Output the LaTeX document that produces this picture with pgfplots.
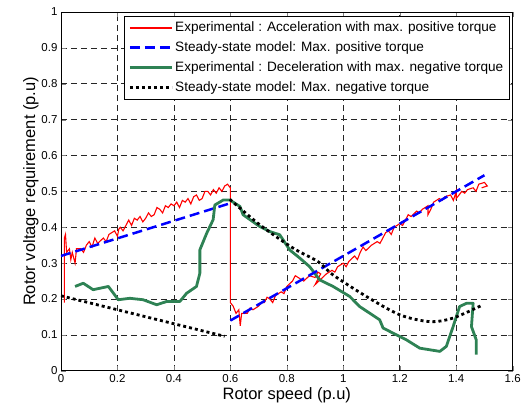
\documentclass[border=0pt]{standalone}
\usepackage{pgfplots}
\pgfplotsset{compat=1.18}
\usepackage{fontspec}
\setmainfont{Liberation Sans}
\definecolor{mgreen}{RGB}{46,130,84}
\begin{document}
\begin{tikzpicture}[x=1pt,y=1pt]
\path (0,0) rectangle (524,416);
\begin{axis}[
  at={(61pt,45pt)}, anchor=south west,
  scale only axis, width=452pt, height=359pt,
  xmin=0, xmax=1.6, ymin=0, ymax=1,
  xtick={0,0.2,...,1.6}, ytick={0,0.1,...,1},
  xticklabels={0,0.2,0.4,0.6,0.8,1,1.2,1.4,1.6},
  yticklabels={0,0.1,0.2,0.3,0.4,0.5,0.6,0.7,0.8,0.9,1},
  tick align=inside, major tick length=5pt,
  grid=major, major grid style={black!85, dash pattern=on 6pt off 4pt, line width=0.6pt},
  tick label style={font=\fontsize{11.5}{13}\selectfont},
  /pgf/number format/assume math mode=true,
  xlabel={Rotor speed (p.u)}, ylabel={Rotor voltage requirement (p.u)},
  label style={font=\fontsize{16.5}{19}\selectfont},
  xlabel style={yshift=2pt},
  ylabel style={yshift=-4pt},
  axis line style={line width=0.8pt},
  legend style={at={(0.993,0.989)}, anchor=north east, draw=black,
    font=\fontsize{13.6}{15}\selectfont, row sep=4.5pt, inner sep=4pt},
  legend cell align=left,
  legend image code/.code={\draw[#1] (0pt,0pt) -- (42pt,0pt);},
]
\addplot[red, line width=1.1pt, legend image post style={draw=red, line width=1.6pt}] coordinates {
(0.012,0.19)(0.012,0.37)(0.016,0.38)(0.02,0.33)(0.03,0.34)(0.035,0.31)(0.04,0.33)(0.05,0.30)(0.055,0.34)(0.07,0.34)(0.08,0.33)(0.09,0.35)(0.1,0.36)(0.11,0.345)(0.12,0.37)(0.13,0.355)(0.15,0.37)(0.16,0.36)(0.17,0.38)(0.19,0.39)(0.2,0.375)(0.205,0.395)(0.21,0.4)(0.22,0.39)(0.23,0.405)(0.24,0.42)(0.25,0.405)(0.26,0.425)(0.27,0.42)(0.28,0.43)(0.29,0.415)(0.3,0.425)(0.31,0.44)(0.32,0.43)(0.33,0.435)(0.34,0.455)(0.35,0.45)(0.36,0.44)(0.37,0.46)(0.38,0.455)(0.39,0.465)(0.4,0.46)(0.41,0.47)(0.42,0.455)(0.43,0.475)(0.44,0.47)(0.45,0.48)(0.46,0.465)(0.47,0.485)(0.48,0.49)(0.49,0.475)(0.5,0.48)(0.51,0.5)(0.52,0.5)(0.53,0.49)(0.54,0.505)(0.55,0.495)(0.56,0.51)(0.57,0.5)(0.58,0.515)(0.59,0.52)(0.6,0.51)(0.6,0.19)(0.61,0.18)(0.62,0.16)(0.63,0.17)(0.635,0.125)(0.64,0.16)(0.66,0.16)(0.67,0.175)(0.68,0.17)(0.7,0.18)(0.71,0.19)(0.72,0.19)(0.73,0.205)(0.74,0.2)(0.75,0.19)(0.76,0.21)(0.78,0.22)(0.79,0.215)(0.8,0.235)(0.82,0.25)(0.83,0.265)(0.84,0.26)(0.86,0.25)(0.88,0.265)(0.9,0.26)(0.91,0.275)(0.92,0.27)(0.9,0.24)(0.94,0.27)(0.96,0.28)(0.97,0.275)(0.98,0.29)(1.0,0.3)(1.01,0.29)(1.02,0.305)(1.04,0.32)(1.05,0.31)(1.06,0.33)(1.07,0.345)(1.08,0.335)(1.1,0.35)(1.12,0.36)(1.13,0.355)(1.14,0.37)(1.15,0.385)(1.16,0.39)(1.17,0.38)(1.18,0.4)(1.2,0.41)(1.21,0.405)(1.22,0.42)(1.23,0.435)(1.24,0.43)(1.26,0.445)(1.27,0.44)(1.28,0.45)(1.3,0.46)(1.3,0.435)(1.31,0.45)(1.32,0.47)(1.34,0.48)(1.35,0.475)(1.36,0.485)(1.38,0.49)(1.39,0.475)(1.4,0.5)(1.4,0.48)(1.42,0.5)(1.43,0.495)(1.44,0.505)(1.46,0.51)(1.47,0.5)(1.48,0.52)(1.5,0.525)(1.51,0.515)(1.49,0.51)
};
\addlegendentry{Experimental : Acceleration with max. positive torque}
\addplot[blue, line width=2.5pt, dash pattern=on 10pt off 5pt] coordinates {
(0,0.32)(0.6,0.467)
};
\addlegendentry{Steady-state model: Max. positive torque}
\addplot[mgreen, line width=2.8pt, line join=round] coordinates {
(0.05,0.235)(0.079,0.244)(0.114,0.226)(0.168,0.235)(0.203,0.198)(0.244,0.202)(0.291,0.198)(0.339,0.184)(0.374,0.193)(0.421,0.193)(0.445,0.216)(0.48,0.235)(0.492,0.272)(0.492,0.337)(0.516,0.383)(0.539,0.421)(0.545,0.462)(0.575,0.476)(0.598,0.476)(0.634,0.458)(0.645,0.435)(0.704,0.402)(0.74,0.388)(0.775,0.379)(0.81,0.337)(0.846,0.314)(0.881,0.29)(0.917,0.253)(0.964,0.235)(1.023,0.207)(1.058,0.179)(1.129,0.142)(1.141,0.119)(1.224,0.086)(1.271,0.063)(1.342,0.054)(1.365,0.068)(1.389,0.123)(1.412,0.179)(1.436,0.188)(1.46,0.188)(1.454,0.123)(1.471,0.086)(1.471,0.045)
};
\addlegendentry{Experimental : Deceleration with max. negative torque}
\addplot[black, line width=2.8pt, dash pattern=on 3pt off 3pt] coordinates {
(0,0.209)(0.58,0.096)
};
\addlegendentry{Steady-state model: Max. negative torque}
\addplot[blue, line width=2.5pt, dash pattern=on 10pt off 5pt, forget plot] coordinates {
(0.6,0.14)(1.5,0.545)
};
\addplot[black, line width=2.8pt, dash pattern=on 3pt off 3pt, smooth, forget plot] coordinates {
(0.598,0.478)(0.704,0.407)(0.822,0.342)(0.911,0.304)(0.964,0.267)(1.082,0.207)(1.2,0.156)(1.306,0.137)(1.389,0.147)(1.495,0.184)
};
\end{axis}
\end{tikzpicture}
\end{document}
